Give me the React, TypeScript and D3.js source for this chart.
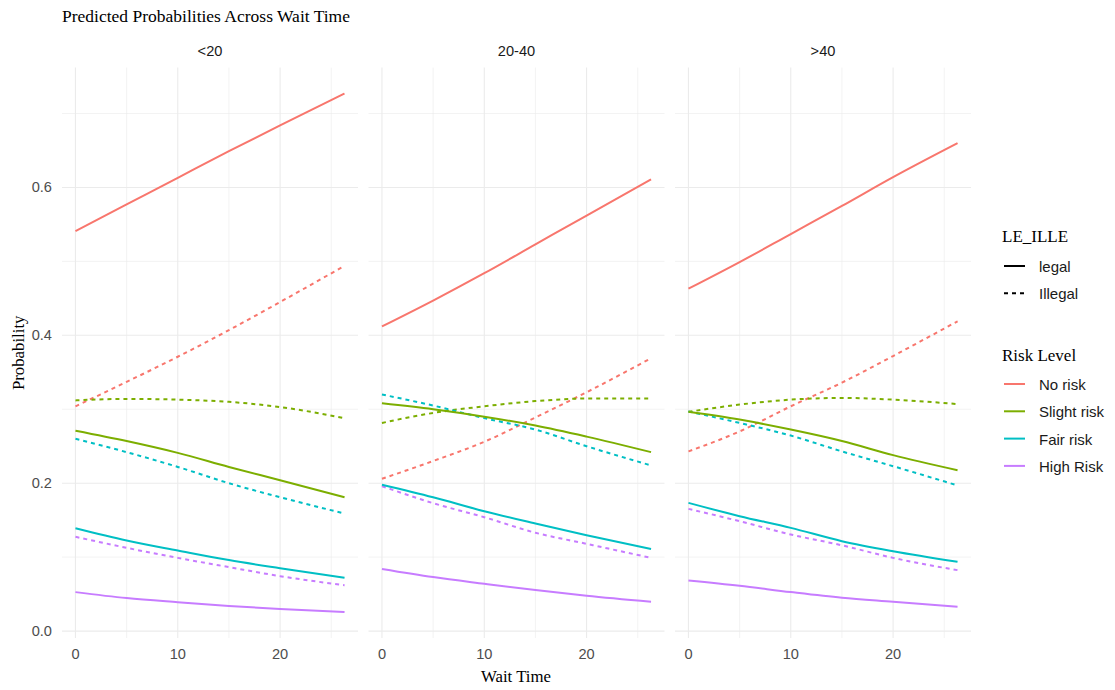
import React from "react";
import * as d3 from "d3";

const waitTimes = [0, 5, 10, 15, 20, 26.3];
const panelNames = ["<20", "20-40", ">40"];
const riskLevels = ["No risk", "Slight risk", "Fair risk", "High Risk"];
const riskColors = ["#F8766D", "#7CAE00", "#00BFC4", "#C77CFF"];
const legalTypes = ["legal", "Illegal"];

// values per panel, at waitTimes
const noRiskLegal = [
  [0.541, 0.577, 0.613, 0.649, 0.684, 0.727],
  [0.412, 0.447, 0.484, 0.523, 0.562, 0.611],
  [0.463, 0.499, 0.537, 0.575, 0.614, 0.66],
];
const noRiskIllegal = [
  [0.304, 0.337, 0.371, 0.407, 0.445, 0.494],
  [0.206, 0.23, 0.256, 0.289, 0.323, 0.369],
  [0.243, 0.27, 0.304, 0.336, 0.372, 0.419],
];
const slightLegal = [
  [0.271, 0.257, 0.241, 0.222, 0.204, 0.181],
  [0.308, 0.3, 0.29, 0.278, 0.263, 0.242],
  [0.2965, 0.286, 0.2725, 0.257, 0.238, 0.2176],
];
const slightIllegal = [
  [0.312, 0.314, 0.313, 0.31, 0.303, 0.288],
  [0.2815, 0.295, 0.304, 0.311, 0.3145, 0.3145],
  [0.2965, 0.3063, 0.313, 0.3153, 0.313, 0.307],
];
const fairLegal = [
  [0.139, 0.1225, 0.109, 0.096, 0.085, 0.072],
  [0.198, 0.181, 0.162, 0.1455, 0.1297, 0.111],
  [0.1734, 0.1554, 0.1396, 0.1216, 0.108, 0.0937],
];
const fairIllegal = [
  [0.26, 0.242, 0.222, 0.2, 0.181, 0.159],
  [0.32, 0.305, 0.288, 0.2725, 0.25, 0.224],
  [0.297, 0.2815, 0.2644, 0.243, 0.223, 0.197],
];
const highLegal = [
  [0.0527, 0.0446, 0.039, 0.034, 0.0297, 0.0257],
  [0.084, 0.073, 0.064, 0.0554, 0.0477, 0.0396],
  [0.0685, 0.0613, 0.0527, 0.045, 0.0396, 0.0329],
];
const highIllegal = [
  [0.1275, 0.1126, 0.099, 0.0865, 0.0743, 0.062],
  [0.196, 0.173, 0.154, 0.133, 0.118, 0.099],
  [0.1653, 0.1486, 0.1306, 0.116, 0.099, 0.0824],
];

const seriesTable = [
  { risk: 0, type: 1, values: noRiskIllegal },
  { risk: 1, type: 1, values: slightIllegal },
  { risk: 2, type: 1, values: fairIllegal },
  { risk: 3, type: 1, values: highIllegal },
  { risk: 0, type: 0, values: noRiskLegal },
  { risk: 1, type: 0, values: slightLegal },
  { risk: 2, type: 0, values: fairLegal },
  { risk: 3, type: 0, values: highLegal },
];

const yMajor = [0, 0.2, 0.4, 0.6];
const yMinor = [0.1, 0.3, 0.5, 0.7];
const xMajor = [0, 10, 20];
const xMinor = [5, 15, 25];

const W = 1115;
const H = 690;
const panelLefts = [62, 368.5, 675];
const panelW = 296;
const top = 67.6;
const bottom = 638;

const sans = "'Liberation Sans', Arial, sans-serif";
const serif = "'Liberation Serif', 'Times New Roman', serif";

export default function App() {
  const allVals = seriesTable.flatMap((s) => s.values.flat());
  const yMin = d3.min(allVals)!;
  const yMax = d3.max(allVals)!;
  const yPad = (yMax - yMin) * 0.05;
  const y = d3.scaleLinear().domain([yMin - yPad, yMax + yPad]).range([bottom, top]);
  const xExt = d3.extent(waitTimes) as [number, number];
  const xPad = (xExt[1] - xExt[0]) * 0.05;

  return (
    <svg width={W} height={H} style={{ display: "block", position: "absolute", left: 0, top: 0 }}>
      <rect width={W} height={H} fill="#fff" />
      <text x={62} y={22} fontFamily={serif} fontSize={17.5} fill="#000">
        Predicted Probabilities Across Wait Time
      </text>
      {panelNames.map((pn, pi) => {
        const x = d3
          .scaleLinear()
          .domain([xExt[0] - xPad, xExt[1] + xPad])
          .range([panelLefts[pi], panelLefts[pi] + panelW]);
        const line = d3
          .line<number>()
          .x((_, i) => x(waitTimes[i]))
          .y((v) => y(v))
          .curve(d3.curveMonotoneX);
        return (
          <g key={pn}>
            {yMinor.map((t) => (
              <line key={"ym" + t} x1={x.range()[0]} x2={x.range()[1]} y1={y(t)} y2={y(t)} stroke="#EBEBEB" strokeWidth={0.6} />
            ))}
            {xMinor.map((t) => (
              <line key={"xm" + t} x1={x(t)} x2={x(t)} y1={top} y2={bottom} stroke="#EBEBEB" strokeWidth={0.6} />
            ))}
            {yMajor.map((t) => (
              <line key={"yM" + t} x1={x.range()[0]} x2={x.range()[1]} y1={y(t)} y2={y(t)} stroke="#EBEBEB" strokeWidth={1.1} />
            ))}
            {xMajor.map((t) => (
              <line key={"xM" + t} x1={x(t)} x2={x(t)} y1={top} y2={bottom} stroke="#EBEBEB" strokeWidth={1.1} />
            ))}
            <text x={(x.range()[0] + x.range()[1]) / 2} y={56} textAnchor="middle" fontFamily={sans} fontSize={14.6} fill="#1A1A1A">
              {pn}
            </text>
            {xMajor.map((t) => (
              <text key={"xl" + t} x={x(t)} y={659} textAnchor="middle" fontFamily={sans} fontSize={14.6} fill="#4D4D4D">
                {t}
              </text>
            ))}
            {seriesTable.map((s, si) => (
              <path
                key={si}
                d={line(s.values[pi]) || ""}
                fill="none"
                stroke={riskColors[s.risk]}
                strokeWidth={2}
                strokeDasharray={s.type === 1 ? "4,4" : undefined}
              />
            ))}
          </g>
        );
      })}
      {yMajor.map((t) => (
        <text key={"yl" + t} x={52} y={y(t) + 5} textAnchor="end" fontFamily={sans} fontSize={14.6} fill="#4D4D4D">
          {t.toFixed(1)}
        </text>
      ))}
      <text x={516} y={682} textAnchor="middle" fontFamily={serif} fontSize={16.8} fill="#000">
        Wait Time
      </text>
      <text transform={`translate(24,${(top + bottom) / 2}) rotate(-90)`} textAnchor="middle" fontFamily={serif} fontSize={16.8} fill="#000">
        Probability
      </text>
      <g>
        <text x={1002} y={242} fontFamily={serif} fontSize={17} fill="#000">
          LE_ILLE
        </text>
        {legalTypes.map((lt, i) => (
          <g key={lt}>
            <line x1={1004} x2={1025} y1={266 + i * 27.3} y2={266 + i * 27.3} stroke="#000" strokeWidth={2} strokeDasharray={i === 1 ? "4,4" : undefined} />
            <text x={1039} y={272 + i * 27.3} fontFamily={sans} fontSize={15} fill="#1A1A1A">
              {lt}
            </text>
          </g>
        ))}
        <text x={1002} y={361} fontFamily={serif} fontSize={17} fill="#000">
          Risk Level
        </text>
        {riskLevels.map((rl, i) => (
          <g key={rl}>
            <line x1={1004} x2={1025} y1={384 + i * 27.3} y2={384 + i * 27.3} stroke={riskColors[i]} strokeWidth={2} />
            <text x={1039} y={390 + i * 27.3} fontFamily={sans} fontSize={15} fill="#1A1A1A">
              {rl}
            </text>
          </g>
        ))}
      </g>
    </svg>
  );
}
